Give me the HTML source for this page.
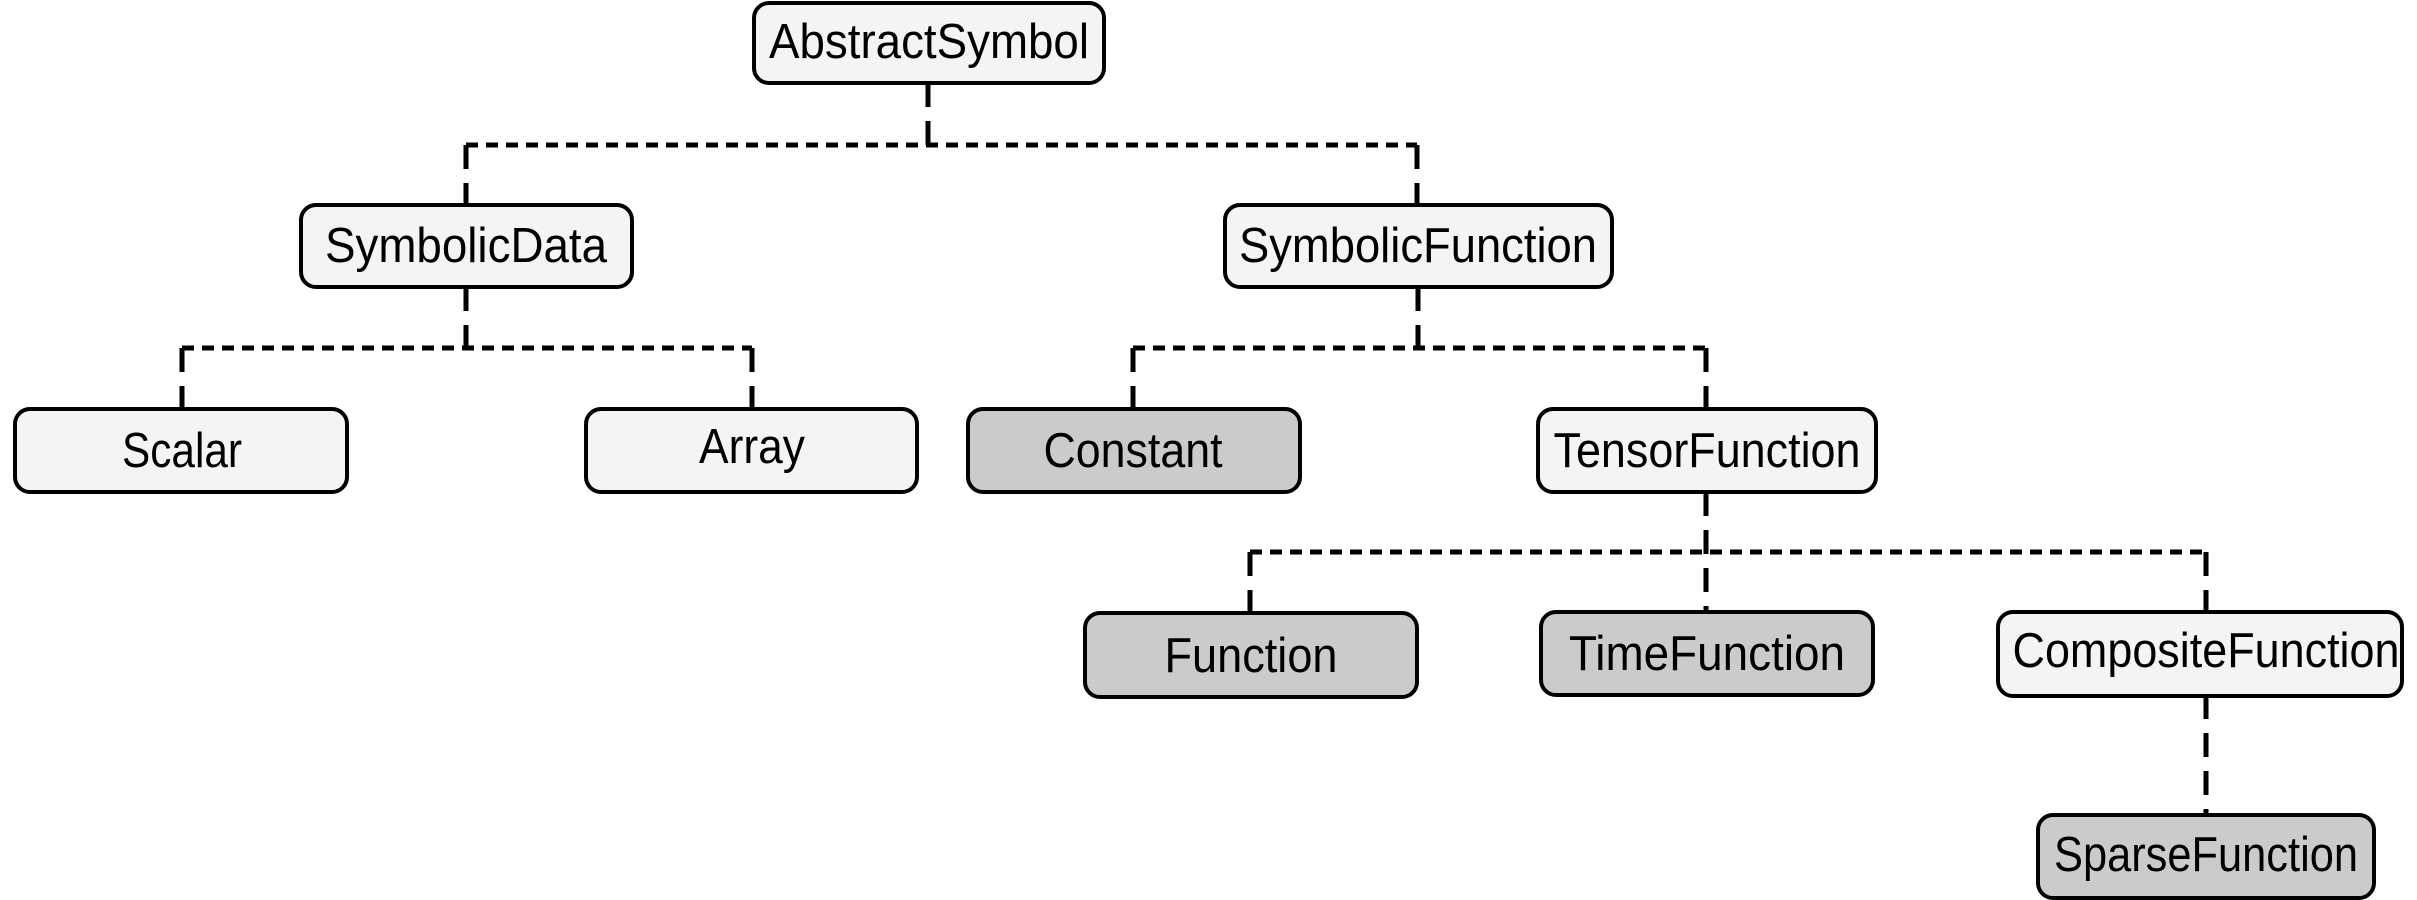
<!DOCTYPE html>
<html><head><style>html,body{margin:0;padding:0;background:#fff}svg{display:block}</style></head><body>
<svg width="2417" height="900" viewBox="0 0 2417 900" xmlns="http://www.w3.org/2000/svg">
<g stroke="#000" stroke-width="5" fill="none">
<g stroke-dasharray="12 8">
<path d="M466 145 H1417"/>
<path d="M182 348 H752"/>
<path d="M1133 348 H1706"/>
<path d="M1250 552 H2206"/>
</g>
<g stroke-dasharray="24 14">
<path d="M928 83 V145"/>
<path d="M466 145 V205"/>
<path d="M1417 145 V205"/>
<path d="M466 287 V348"/>
<path d="M182 348 V408"/>
<path d="M752 348 V408"/>
<path d="M1418 287 V348"/>
<path d="M1133 348 V408"/>
<path d="M1706 348 V408"/>
<path d="M1706 492 V612"/>
<path d="M1250 552 V613"/>
<path d="M2206 552 V612"/>
<path d="M2206 695 V815"/>
</g>
</g>
<g stroke="#000" stroke-width="4">
<rect x="754" y="3" width="350" height="80" rx="15" fill="#f4f4f4"/>
<rect x="301" y="205" width="331" height="82" rx="15" fill="#f4f4f4"/>
<rect x="1225" y="205" width="387" height="82" rx="15" fill="#f4f4f4"/>
<rect x="15" y="409" width="332" height="83" rx="15" fill="#f4f4f4"/>
<rect x="586" y="409" width="331" height="83" rx="15" fill="#f4f4f4"/>
<rect x="968" y="409" width="332" height="83" rx="15" fill="#cbcbcb"/>
<rect x="1538" y="409" width="338" height="83" rx="15" fill="#f4f4f4"/>
<rect x="1085" y="613" width="332" height="84" rx="15" fill="#cbcbcb"/>
<rect x="1541" y="612" width="332" height="83" rx="15" fill="#cbcbcb"/>
<rect x="1998" y="612" width="404" height="84" rx="15" fill="#f4f4f4"/>
<rect x="2038" y="815" width="336" height="83" rx="15" fill="#cbcbcb"/>
</g>
<g font-family="Liberation Sans, sans-serif" font-size="49" fill="#000" text-anchor="middle">
<text x="929" y="58" textLength="320" lengthAdjust="spacingAndGlyphs">AbstractSymbol</text>
<text x="466" y="262" textLength="282" lengthAdjust="spacingAndGlyphs">SymbolicData</text>
<text x="1418" y="262" textLength="358" lengthAdjust="spacingAndGlyphs">SymbolicFunction</text>
<text x="182" y="467" textLength="120" lengthAdjust="spacingAndGlyphs">Scalar</text>
<text x="752" y="463" textLength="106" lengthAdjust="spacingAndGlyphs">Array</text>
<text x="1133" y="467" textLength="179" lengthAdjust="spacingAndGlyphs">Constant</text>
<text x="1707" y="467" textLength="307" lengthAdjust="spacingAndGlyphs">TensorFunction</text>
<text x="1251" y="672" textLength="173" lengthAdjust="spacingAndGlyphs">Function</text>
<text x="1707" y="670" textLength="276" lengthAdjust="spacingAndGlyphs">TimeFunction</text>
<text x="2206" y="667" textLength="387" lengthAdjust="spacingAndGlyphs">CompositeFunction</text>
<text x="2206" y="871" textLength="304" lengthAdjust="spacingAndGlyphs">SparseFunction</text>
</g>
</svg>
</body></html>
